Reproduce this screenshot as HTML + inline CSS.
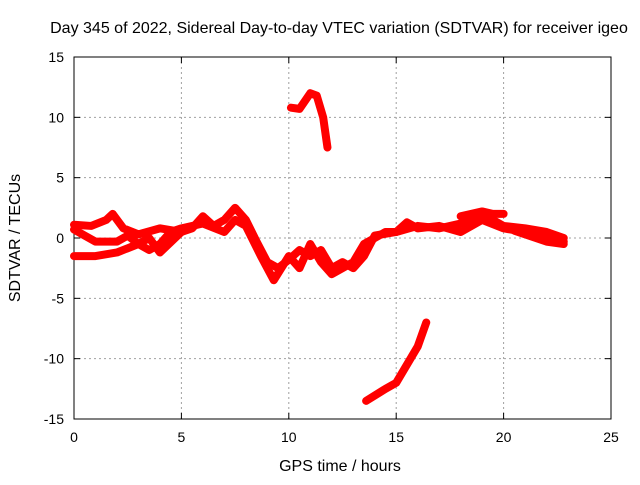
<!DOCTYPE html>
<html><head><meta charset="utf-8"><style>
body{margin:0;background:#fff;font-family:"Liberation Sans",sans-serif}
svg text{font-family:"Liberation Sans",sans-serif;font-size:14px;fill:#000}
svg text.big{font-size:16px}
</style></head><body>
<svg width="640" height="480">
<rect width="640" height="480" fill="#fff"/>
<text class="big" x="339" y="33" text-anchor="middle">Day 345 of 2022, Sidereal Day-to-day VTEC variation (SDTVAR) for receiver igeo</text>
<g id="grid"></g>
<g id="axes"></g>
<g id="series"></g>
<text class="big" x="340" y="471" text-anchor="middle">GPS time / hours</text>
<text class="big" transform="translate(20,238) rotate(-90)" text-anchor="middle">SDTVAR / TECUs</text>
</svg>
<script>
const xTicks=[0,5,10,15,20,25];
const yTicks=[-15,-10,-5,0,5,10,15];
const trackA=[[0,1.1],[0.8,1.0],[1.5,1.5],[1.8,2.0],[2.3,0.8],[3,0.3],[4,0.8],[5,0.5],[5.5,0.8],[6,1.8],[6.5,1.0],[7,1.5],[7.5,2.5],[8,1.5],[8.5,-0.3],[9,-2.0],[9.5,-2.5],[10,-1.8],[10.5,-1.0],[11,-1.5],[11.5,-1.0],[12,-2.5],[12.5,-2.0],[13,-2.5],[13.5,-1.5],[14,0.2],[15,0.5],[16,1.0],[17,0.8],[18,1.2],[19,2.0],[20,1.0],[21,0.8],[22,0.5],[22.8,0.0]];
const trackB=[[0,0.7],[0.5,0.2],[1,-0.3],[2,-0.3],[2.5,0.2],[3,-0.5],[3.5,-1.0],[4,-0.5],[4.5,0.5],[5,0.8],[6,1.2],[7,0.5],[7.5,1.5],[8,1.0],[8.7,-1.5],[9.3,-3.5],[10,-1.5],[10.5,-2.5],[11,-0.5],[11.5,-2.0],[12,-3.0],[12.5,-2.5],[13,-2.0],[13.5,-0.5],[14,0.0],[14.5,0.5],[15,0.5],[15.5,1.3],[16,0.8],[17,1.0],[18,0.5],[19,1.5],[20,0.8],[21,0.5],[22,0.2],[22.8,-0.3]];
const trackC=[[0,-1.5],[1,-1.5],[2,-1.2],[3,-0.5],[3.5,0.0],[4,-1.2],[5,0.5]];
const trackD=[[18,1.8],[19,2.2],[19.5,2.0],[20,2.0]];
const trackE=[[20.5,0.6],[21,0.3],[22,-0.3],[22.8,-0.5]];
const segHigh=[[10.1,10.8],[10.5,10.7],[11,12.0],[11.3,11.8],[11.6,10.0],[11.8,7.5]];
const segLow=[[13.6,-13.5],[14.5,-12.5],[15,-12],[15.5,-10.5],[16,-9],[16.4,-7]];
const tracks=[trackA,trackB,trackC,trackD,trackE,segHigh,segLow];
const X0=74,X1=611,Y0=419,Y1=57;
const sx=v=>X0+(v-0)/25*(X1-X0);
const sy=v=>Y0-(v+15)/30*(Y0-Y1);
const NS="http://www.w3.org/2000/svg";
function mk(t,a,p){const e=document.createElementNS(NS,t);for(const k in a)e.setAttribute(k,a[k]);p.appendChild(e);return e;}
const grid=document.getElementById('grid'),axes=document.getElementById('axes'),ser=document.getElementById('series');
xTicks.forEach(t=>{const x=sx(t);
 if(t>0&&t<25){const g=mk('line',{x1:x,x2:x,y1:Y1,y2:Y0,stroke:'#a0a0a0','stroke-dasharray':'2,3'},grid);}
 mk('line',{x1:x,x2:x,y1:Y0,y2:Y0-6,stroke:'#000'},axes);mk('line',{x1:x,x2:x,y1:Y1,y2:Y1+6,stroke:'#000'},axes);
 const l=mk('text',{x:x,y:Y0+23,'text-anchor':'middle'},axes);l.textContent=t;
 });
yTicks.forEach(t=>{const y=sy(t);
 if(t>-15&&t<15){const g=mk('line',{x1:X0,x2:X1,y1:y,y2:y,stroke:'#a0a0a0','stroke-dasharray':'2,3'},grid);}
 mk('line',{x1:X0,x2:X0+6,y1:y,y2:y,stroke:'#000'},axes);mk('line',{x1:X1,x2:X1-6,y1:y,y2:y,stroke:'#000'},axes);
 const l=mk('text',{x:X0-10,y:y+5,'text-anchor':'end'},axes);l.textContent=t;
 });
mk('rect',{x:X0,y:Y1,width:X1-X0,height:Y0-Y1,fill:'none',stroke:'#000'},axes);
tracks.forEach((tr,i)=>{
 const p=mk('polyline',{points:tr.map(d=>sx(d[0])+','+sy(d[1])).join(' '),fill:'none',stroke:'#ff0000','stroke-width':8,'stroke-linejoin':'round','stroke-linecap':'round'},ser);
 
 
});
</script>
</body></html>
